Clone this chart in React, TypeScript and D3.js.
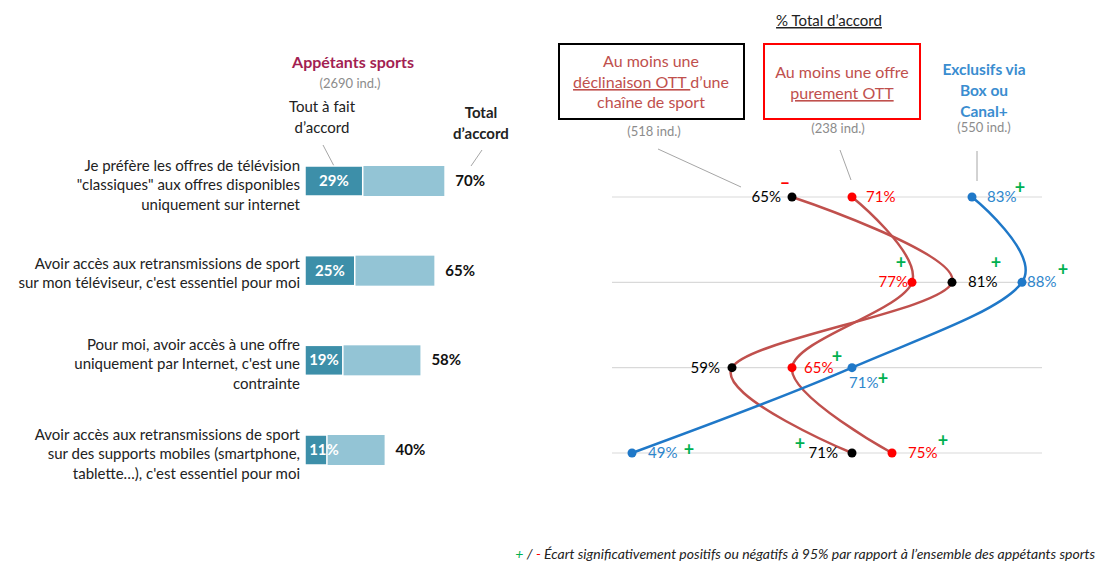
import React from 'react';
import * as d3 from 'd3';

// left panel: Appétants sports
const categories = [
  ['Je préfère les offres de télévision', '"classiques" aux offres disponibles', 'uniquement sur internet'],
  ['Avoir accès aux retransmissions de sport', "sur mon téléviseur, c'est essentiel pour moi"],
  ["Pour moi, avoir accès à une offre", "uniquement par Internet, c'est une", 'contrainte'],
  ['Avoir accès aux retransmissions de sport', 'sur des supports mobiles (smartphone,', "tablette…), c'est essentiel pour moi"],
];
const toutAFait = [29, 25, 19, 11];
const totalAccord = [70, 65, 58, 40];

// right panel: % total d'accord by segment
const declinaisonOTT = [65, 81, 59, 71];
const purementOTT = [71, 77, 65, 75];
const exclusifsBox = [83, 88, 71, 49];
const declinaisonSig = ['-', '+', '', '+'];
const purementSig = ['', '+', '+', '+'];
const exclusifsSig = ['+', '+', '+', '+'];

const FONT = "Lato, 'Open Sans', sans-serif";
const LINE_RED = '#c0504d';
const RED = '#ff0000';
const BLUE = '#1f78c8';
const GREEN = '#00b050';
const FS = 15;

// label placement per point, and where the +/- sign sits
const declLabels: any[] = [
  { dx: -11, dy: 5, anchor: 'end', sx: -7, sy: -8 },
  { dx: 16, dy: 5, anchor: 'start', sx: 44, sy: -13 },
  { dx: -12, dy: 5, anchor: 'end', sx: 0, sy: 0 },
  { dx: -14, dy: 5, anchor: 'end', sx: -52, sy: -3 },
];
const purLabels: any[] = [
  { dx: 14, dy: 5, anchor: 'start', sx: 0, sy: 0 },
  { dx: -4, dy: 5, anchor: 'end', sx: -11, sy: -13 },
  { dx: 12, dy: 5, anchor: 'start', sx: 45, sy: -5 },
  { dx: 16, dy: 5, anchor: 'start', sx: 51, sy: -6 },
];
const exLabels: any[] = [
  { dx: 15, dy: 5, anchor: 'start', sx: 48, sy: -3 },
  { dx: 5, dy: 5, anchor: 'start', sx: 41, sy: -6 },
  { dx: -3, dy: 20, anchor: 'start', sx: 31, sy: 17 },
  { dx: 16, dy: 5, anchor: 'start', sx: 57, sy: 3 },
];

const Sign = ({ x, y, s }: { x: number; y: number; s: string }) =>
  s ? (
    <text x={x} y={y} textAnchor="middle" fontSize={18} fontWeight="bold" fill={s === '+' ? GREEN : RED}>
      {s === '+' ? '+' : '–'}
    </text>
  ) : null;

export default function App() {
  const xBar = d3.scaleLinear().domain([0, 100]).range([305, 504]);
  const yBar = d3.scalePoint<number>().domain([0, 1, 2, 3]).range([181, 450]);
  const barH = 30;

  const x = d3.scaleLinear().domain([47, 90]).range([612, 1042]);
  const y = d3.scalePoint<number>().domain([0, 1, 2, 3]).range([197, 453]);
  const line = d3
    .line<number>()
    .x((d) => x(d))
    .y((_, i) => y(i)!)
    .curve(d3.curveCatmullRom.alpha(0));

  const series = [
    { values: declinaisonOTT, sig: declinaisonSig, labels: declLabels, stroke: LINE_RED, dot: '#000', text: '#000' },
    { values: purementOTT, sig: purementSig, labels: purLabels, stroke: LINE_RED, dot: RED, text: RED },
    { values: exclusifsBox, sig: exclusifsSig, labels: exLabels, stroke: BLUE, dot: BLUE, text: '#2e86cc' },
  ];

  return (
    <svg width={1098} height={564} style={{ position: 'absolute', left: 0, top: 0, background: '#fff' }} fontFamily={FONT}>
      {/* left header */}
      <text x={353} y={68} textAnchor="middle" fontSize={16} fontWeight="bold" fill="#a31f52">Appétants sports</text>
      <text x={350} y={88} textAnchor="middle" fontSize={13} fill="#8c8c8c">(2690 ind.)</text>
      <text x={322} y={112} textAnchor="middle" fontSize={FS} fill="#222">Tout à fait</text>
      <text x={322} y={133} textAnchor="middle" fontSize={FS} fill="#222">d’accord</text>
      <text x={481} y={118} textAnchor="middle" fontSize={FS} fontWeight="bold" fill="#222">Total</text>
      <text x={481} y={139} textAnchor="middle" fontSize={FS} fontWeight="bold" fill="#222">d’accord</text>
      <line x1={323} y1={145} x2={334} y2={166} stroke="#a6a6a6" />
      <line x1={482} y1={150} x2={471} y2={166} stroke="#a6a6a6" />

      {categories.map((lines, i) => {
        const cy = yBar(i)!;
        const lh = 19.5;
        const y0 = cy + 5 - ((lines.length - 1) * lh) / 2 + (lines.length === 3 ? 4 : 3);
        return (
          <g key={i}>
            {lines.map((l, j) => (
              <text key={j} x={300} y={y0 + j * lh} textAnchor="end" fontSize={FS} fill="#222">{l}</text>
            ))}
            <rect x={xBar(0)} y={cy - barH / 2} width={xBar(totalAccord[i]) - xBar(0)} height={barH} fill="#93c4d5" />
            <rect x={xBar(0)} y={cy - barH / 2} width={xBar(toutAFait[i]) - xBar(0)} height={barH} fill="#3d8fa9" stroke="#fff" strokeWidth={1.5} />
            <text x={(xBar(0) + Math.max(xBar(toutAFait[i]), xBar(0) + 38)) / 2} y={cy + 5} textAnchor="middle" fontSize={FS} fontWeight="bold" fill="#fff">
              {toutAFait[i]}%
            </text>
            <text x={xBar(totalAccord[i]) + 11} y={cy + 5} fontSize={FS} fontWeight="bold" fill="#111">{totalAccord[i]}%</text>
          </g>
        );
      })}

      {/* right header */}
      <text x={829} y={26} textAnchor="middle" fontSize={15} fill="#222" textDecoration="underline">% Total d’accord</text>
      <rect x={559} y={44} width={185} height={75} fill="none" stroke="#000" strokeWidth={2} />
      <text x={651} y={67} textAnchor="middle" fontSize={16} fill={LINE_RED}>Au moins une</text>
      <text x={651} y={88} textAnchor="middle" fontSize={16} fill={LINE_RED}>
        <tspan textDecoration="underline">déclinaison OTT </tspan>d’une
      </text>
      <text x={651} y={108} textAnchor="middle" fontSize={16} fill={LINE_RED}>chaîne de sport</text>
      <rect x={764} y={44} width={156} height={75} fill="none" stroke={RED} strokeWidth={2} />
      <text x={842} y={78} textAnchor="middle" fontSize={16} fill={LINE_RED}>Au moins une offre</text>
      <text x={842} y={99} textAnchor="middle" fontSize={16} fill={LINE_RED} textDecoration="underline">purement OTT</text>
      <text x={984} y={75} textAnchor="middle" fontSize={15.5} fontWeight="bold" fill="#3a8dd0">Exclusifs via</text>
      <text x={984} y={96} textAnchor="middle" fontSize={15.5} fontWeight="bold" fill="#3a8dd0">Box ou</text>
      <text x={984} y={117} textAnchor="middle" fontSize={15.5} fontWeight="bold" fill="#3a8dd0">Canal+</text>
      <text x={654} y={136} textAnchor="middle" fontSize={13} fill="#8c8c8c">(518 ind.)</text>
      <text x={838} y={133} textAnchor="middle" fontSize={13} fill="#8c8c8c">(238 ind.)</text>
      <text x={984} y={132} textAnchor="middle" fontSize={13} fill="#8c8c8c">(550 ind.)</text>
      <line x1={658} y1={149} x2={741} y2={187} stroke="#a6a6a6" />
      <line x1={840} y1={150} x2={851} y2={180} stroke="#a6a6a6" />
      <line x1={977} y1={151} x2={977} y2={181} stroke="#a6a6a6" />

      {[0, 1, 2, 3].map((i) => (
        <line key={i} x1={x.range()[0]} x2={x.range()[1]} y1={y(i)} y2={y(i)} stroke="#d9d9d9" strokeWidth={1.2} />
      ))}

      {series.map((s, k) => (
        <path key={k} d={line(s.values) || ''} fill="none" stroke={s.stroke} strokeWidth={2.5} />
      ))}
      {series.map((s, k) => (
        <g key={k}>
          {s.values.map((v, i) => {
            const cx = x(v);
            const cy = y(i)!;
            const lb = s.labels[i];
            return (
              <g key={i}>
                <circle cx={cx} cy={cy} r={4.5} fill={s.dot} />
                <text x={cx + lb.dx} y={cy + lb.dy} textAnchor={lb.anchor} fontSize={FS} fill={s.text}>{v}%</text>
                <Sign x={cx + lb.sx} y={cy + lb.sy} s={s.sig[i]} />
              </g>
            );
          })}
        </g>
      ))}

      {/* footnote */}
      <text x={1095} y={559} textAnchor="end" fontSize={14} fontStyle="italic" fill="#222">
        <tspan fill={GREEN}>+</tspan> / <tspan fill={RED}>-</tspan> Écart significativement positifs ou négatifs à 95% par rapport à l’ensemble des appétants sports
      </text>
    </svg>
  );
}
